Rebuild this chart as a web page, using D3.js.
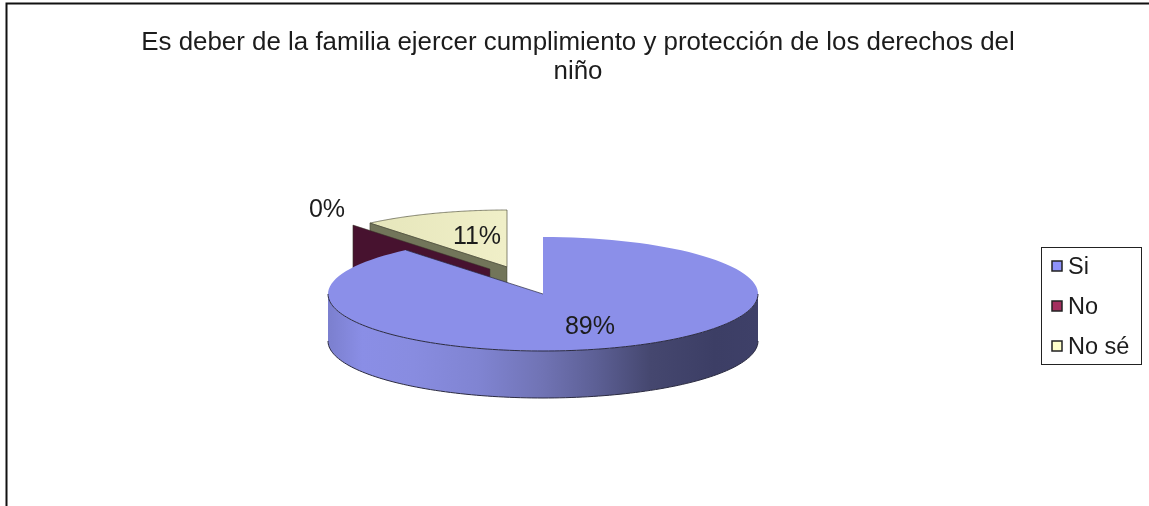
<!DOCTYPE html>
<html><head><meta charset="utf-8">
<script src="https://cdnjs.cloudflare.com/ajax/libs/d3/7.8.5/d3.min.js"></script>
<style>html,body{margin:0;padding:0;background:#fff;overflow:hidden}svg{display:block;filter:blur(0.45px)}text{font-family:"Liberation Sans",Arial,sans-serif;fill:#1c1c1c}</style>
</head><body><svg id="c" width="1149" height="506"></svg>
<script>
const categories = ["Si", "No", "No sé"];
const values = [89, 0, 11];
const labels = ["89%", "0%", "11%"];
const titleLines = ["Es deber de la familia ejercer cumplimiento y protección de los derechos del", "niño"];
const topColors = ["#8b8fe9", "#47122f", "#ecebc2"];
const wallColors = ["#8b8fe8", "#47122f", "#72755a"];
const swatchColors = ["#8e92fb", "#a42f5f", "#ffffcb"];

const svg = d3.select("#c");
const defs = svg.append("defs");
const W = 215, H = 57, D = 47, C = {x: 543, y: 294};
const origins = [{x: 543, y: 294}, {x: 490, y: 269}, {x: 507, y: 267}];
const labelPos = [[590, 325], [327, 208], [477, 235]];

const sx = d3.scaleLinear().domain([-1, 1]).range([-W, W]);
const sy = d3.scaleLinear().domain([-1, 1]).range([H, -H]);
const pie = d3.pie().sort(null).value(d => d).startAngle(0).endAngle(2 * Math.PI);
const arcs = pie(values);
const line = d3.line();
const pt = (o, a, dy = 0) => [o.x + sx(Math.sin(a)), o.y + sy(Math.cos(a)) + dy];
const sample = (a0, a1) => d3.range(0, 121).map(i => a0 + (a1 - a0) * i / 120);

const g = defs.append("linearGradient").attr("id", "wall").attr("gradientUnits", "userSpaceOnUse")
  .attr("x1", C.x - W).attr("x2", C.x + W).attr("y1", 0).attr("y2", 0);
[[0, "#7b7fce"], [0.08, "#8a8ee6"], [0.2, "#888ce0"], [0.35, "#8084d2"], [0.5, "#7073b4"], [0.62, "#5d6096"], [0.75, "#45476f"], [0.9, "#3c3e65"], [1, "#3e4068"]]
  .forEach(s => g.append("stop").attr("offset", s[0]).attr("stop-color", s[1]));
const gy = defs.append("linearGradient").attr("id", "ytop").attr("gradientUnits", "userSpaceOnUse")
  .attr("x1", 370).attr("x2", 507).attr("y1", 0).attr("y2", 0);
[[0, "#e6e6bb"], [1, "#f0efc8"]].forEach(s => gy.append("stop").attr("offset", s[0]).attr("stop-color", s[1]));

// frame
svg.append("path").attr("d", "M6.5,506V3.5H1149").attr("fill", "none").attr("stroke", "#111").attr("stroke-width", 2);

// title
svg.append("g").selectAll("text").data(titleLines).join("text")
  .attr("x", 578).attr("y", (d, i) => 50 + i * 29)
  .attr("text-anchor", "middle").attr("font-size", 25.9).text(d => d);

const edge = "#2a2a40";
const wedgePts = (o, a) => [[o.x, o.y], ...sample(a.startAngle, a.endAngle).map(t => pt(o, t))];
const drawWall = i => {
  const o = origins[i], a = arcs[i].startAngle;
  svg.append("path").attr("d", line([[o.x, o.y], pt(o, a), pt(o, a, D), [o.x, o.y + D]]) + "Z")
    .attr("fill", wallColors[i]).attr("stroke", "#3a3a2a").attr("stroke-width", 0.5);
};
// yellow slice (No sé)
svg.append("path").attr("d", line(wedgePts(origins[2], arcs[2])) + "Z")
  .attr("fill", "url(#ytop)").attr("stroke", "#55553f").attr("stroke-width", 0.7);
drawWall(2);
// maroon zero slice
drawWall(1);

// blue slice
const b = arcs[0], oB = origins[0];
const frontA = sample(Math.PI / 2, Math.PI * 1.5);
svg.append("path").attr("d", line([...frontA.map(t => pt(oB, t)), ...frontA.slice().reverse().map(t => pt(oB, t, D))]) + "Z")
  .attr("fill", "url(#wall)").attr("stroke", "none");
svg.append("path").attr("d", line(frontA.map(t => pt(oB, t, D)))).attr("fill", "none").attr("stroke", edge).attr("stroke-width", 1);
svg.append("path").attr("d", line(wedgePts(oB, b)) + "Z").attr("fill", topColors[0]).attr("stroke", "none");
svg.append("path").attr("d", line(frontA.map(t => pt(oB, t)))).attr("fill", "none").attr("stroke", edge).attr("stroke-width", 1);
svg.append("path").attr("d", line([pt(oB, b.endAngle), [oB.x, oB.y]])).attr("fill", "none").attr("stroke", edge).attr("stroke-width", 0.7);

// data labels
svg.append("g").selectAll("text").data(labels).join("text")
  .attr("x", (d, i) => labelPos[i][0]).attr("y", (d, i) => labelPos[i][1] + 9)
  .attr("text-anchor", "middle").attr("font-size", 25).text(d => d);

// legend
const lg = svg.append("g");
lg.append("rect").attr("x", 1041.5).attr("y", 247.5).attr("width", 100).attr("height", 117).attr("fill", "#fff").attr("stroke", "#222").attr("stroke-width", 1);
const ly = d3.scalePoint().domain(categories).range([266, 346]);
categories.forEach((c, i) => {
  lg.append("rect").attr("x", 1052).attr("y", ly(c) - 5).attr("width", 10).attr("height", 10)
    .attr("fill", swatchColors[i]).attr("stroke", "#222").attr("stroke-width", 1.5);
  lg.append("text").attr("x", 1068).attr("y", ly(c) + 7.5).attr("font-size", 23.5).text(c);
});
</script></body></html>
